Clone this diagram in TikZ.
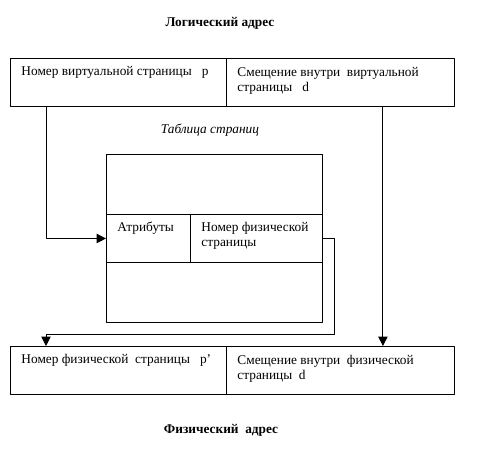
\documentclass[tikz,border=0pt]{standalone}
\usepackage{fontspec}
\setmainfont{Liberation Serif}
\usetikzlibrary{arrows.meta,calc}
\begin{document}
\begin{tikzpicture}[x=0.75pt,y=-0.75pt,font=\fontsize{10}{11.5}\selectfont,line join=round,line width=0.7pt,>={Triangle[length=7pt,width=7pt]},
  cell/.style={draw,inner sep=0,anchor=north west},
  txt/.style={inner sep=0,anchor=base west,align=left}]
\useasboundingbox (0,0) rectangle (480,452);
\foreach \n/\x/\y/\w/\h in {lv/10/58/216/48,lo/226/58/228/48,ttop/106/154/216/60,attr/106/214/84/48,pfn/190/214/132/48,tbot/106/262/216/60,pp/10/346/216/48,po/226/346/228/48}
  \node[cell,minimum width=\w*0.75pt,minimum height=\h*0.75pt] (\n) at (\x,\y) {};
\node[anchor=base,font=\bfseries] (lt) at (220,27) {Логический адрес};
\node[anchor=base,font=\itshape] (tt) at (210,134) {Таблица страниц};
\node[anchor=base,font=\bfseries] (pt) at (221,434) {Физический\ \ адрес};
\node[txt] (lvt) at ($(lv.north west)+(11,18)$) {Номер виртуальной страницы\ \ \ p};
\node[txt] (lot) at ($(lo.north west)+(11,34)$) {Смещение внутри\ \ виртуальной\\ страницы\ \ \ d};
\node[txt] (attrt) at ($(attr.north west)+(11,18)$) {Атрибуты};
\node[txt] (pfnt) at ($(pfn.north west)+(11,33)$) {Номер физической\\ страницы};
\node[txt] (ppt) at ($(pp.north west)+(11,18)$) {Номер физической\ \ страницы\ \ \ p’};
\node[txt] (pot) at ($(po.north west)+(11,34)$) {Смещение внутри\ \ физической\\ страницы\ \ d};
\draw[->] ($(lv.south west)+(36,0)$) |- (attr.west);
\draw[->] ($(lo.south east)+(-72,0)$) -- ($(po.north east)+(-72,0)$);
\draw[->] (pfn.east) -- ++(12,0) |- ($(pp.north west)+(36,-12)$) -- ($(pp.north west)+(36,0)$);
\end{tikzpicture}
\end{document}
